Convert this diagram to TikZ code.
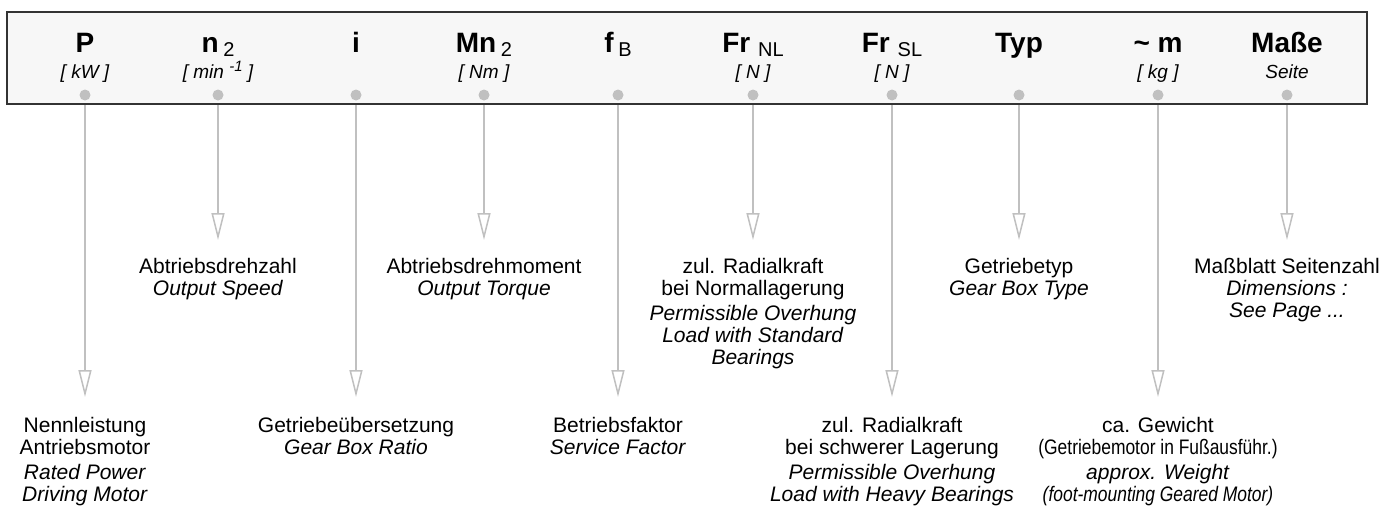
\documentclass[tikz,border=0pt]{standalone}
\usepackage{fontspec}
\setmainfont{Liberation Sans}
\usepackage{graphicx}
\usetikzlibrary{arrows.meta,positioning}
\definecolor{frameline}{RGB}{51,51,51}
\definecolor{framefill}{RGB}{247,247,247}
\definecolor{leadgray}{RGB}{192,192,192}
\newcommand{\lowidx}[1]{\raisebox{-4pt}{\fontsize{20}{20}\selectfont\mdseries #1}}
\newcommand{\upidx}[1]{\raisebox{7pt}{\fontsize{15}{15}\selectfont #1}}
\newcommand{\narrow}[1]{\scalebox{0.83}[1]{#1}}

\begin{document}
\begin{tikzpicture}[
        x=1pt, y=-1pt,
        frame/.style={rectangle, draw=frameline, line width=2pt, fill=framefill, minimum width=1360pt, minimum height=92pt, inner sep=0pt},
        head/.style={anchor=base, inner sep=0pt, font=\fontsize{28}{30}\selectfont\bfseries},
        unit/.style={anchor=base, inner sep=0pt, font=\fontsize{19}{20}\selectfont\itshape},
        dot/.style={circle, fill=leadgray, inner sep=0pt, minimum size=11pt},
        lbl/.style={align=center, inner sep=0pt, font=\fontsize{21}{22}\selectfont},
        lead/.style={draw=leadgray, line width=2pt, -{Triangle[open, length=27pt, width=13pt, line width=1.5pt]}},
    ]
        \useasboundingbox (0,0) rectangle (1400,512);

        % Header bar
        \node[frame] (frame) at (687,58) {};

        \node[head] (hP) at (85,52) {P};
        \node[head] (hN) at (218,52) {n\,\lowidx{2}};
        \node[head] (hI) at (356,52) {i};
        \node[head] (hM) at (484,52) {Mn\,\lowidx{2}};
        \node[head] (hF) at (618,52) {f\,\lowidx{B}};
        \node[head] (hNL) at (753,52) {Fr\ \lowidx{NL}};
        \node[head] (hSL) at (892,52) {Fr\ \lowidx{SL}};
        \node[head] (hT) at (1019,52) {Typ};
        \node[head] (hG) at (1158,52) {\textasciitilde\ m};
        \node[head] (hS) at (1287,52) {Maße};

        \node[unit] (uP) at (85,78) {[ kW ]};
        \node[unit] (uN) at (218,78) {[ min \upidx{-1}\ ]};
        \node[unit] (uM) at (484,78) {[ Nm ]};
        \node[unit] (uNL) at (753,78) {[ N ]};
        \node[unit] (uSL) at (892,78) {[ N ]};
        \node[unit] (uG) at (1158,78) {[ kg ]};
        \node[unit] (uS) at (1287,78) {Seite};

        \node[dot] (dP) at (85,95) {};
        \node[dot] (dN) at (218,95) {};
        \node[dot] (dI) at (356,95) {};
        \node[dot] (dM) at (484,95) {};
        \node[dot] (dF) at (618,95) {};
        \node[dot] (dNL) at (753,95) {};
        \node[dot] (dSL) at (892,95) {};
        \node[dot] (dT) at (1019,95) {};
        \node[dot] (dG) at (1158,95) {};
        \node[dot] (dS) at (1287,95) {};

        % Arrow tips, short and long
        \coordinate (tN) at (218,240);
        \coordinate (tM) at (484,240);
        \coordinate (tNL) at (753,240);
        \coordinate (tT) at (1019,240);
        \coordinate (tS) at (1287,240);
        \coordinate (tP) at (85,397);
        \coordinate (tI) at (356,397);
        \coordinate (tF) at (618,397);
        \coordinate (tSL) at (892,397);
        \coordinate (tG) at (1158,397);

        \draw[lead] (dP |- frame.south) -- (tP);
        \draw[lead] (dN |- frame.south) -- (tN);
        \draw[lead] (dI |- frame.south) -- (tI);
        \draw[lead] (dM |- frame.south) -- (tM);
        \draw[lead] (dF |- frame.south) -- (tF);
        \draw[lead] (dNL |- frame.south) -- (tNL);
        \draw[lead] (dSL |- frame.south) -- (tSL);
        \draw[lead] (dT |- frame.south) -- (tT);
        \draw[lead] (dG |- frame.south) -- (tG);
        \draw[lead] (dS |- frame.south) -- (tS);

        % Upper row of explanations
        \node[lbl, below=18pt of tN] (lN) {Abtriebsdrehzahl\\\textit{Output Speed}};
        \node[lbl, below=18pt of tM] (lM) {Abtriebsdrehmoment\\\textit{Output Torque}};
        \node[lbl, below=18pt of tNL] (lNL) {zul. Radialkraft\\bei Normallagerung\\[3pt]\textit{Permissible Overhung}\\\textit{Load with Standard}\\\textit{Bearings}};
        \node[lbl, below=18pt of tT] (lT) {Getriebetyp\\\textit{Gear Box Type}};
        \node[lbl, below=18pt of tS] (lS) {Maßblatt Seitenzahl\\\textit{Dimensions :}\\\textit{See Page ...}};

        % Lower row of explanations
        \node[lbl, below=20pt of tP] (lP) {Nennleistung\\Antriebsmotor\\[3pt]\textit{Rated Power}\\\textit{Driving Motor}};
        \node[lbl, below=20pt of tI] (lI) {Getriebeübersetzung\\\textit{Gear Box Ratio}};
        \node[lbl, below=20pt of tF] (lF) {Betriebsfaktor\\\textit{Service Factor}};
        \node[lbl, below=20pt of tSL] (lSL) {zul. Radialkraft\\bei schwerer Lagerung\\[3pt]\textit{Permissible Overhung}\\\textit{Load with Heavy Bearings}};
        \node[lbl, below=20pt of tG] (lG) {ca. Gewicht\\\narrow{(Getriebemotor in Fußausführ.)}\\[3pt]\textit{approx. Weight}\\\narrow{\textit{(foot-mounting Geared Motor)}}};
\end{tikzpicture}
\end{document}
